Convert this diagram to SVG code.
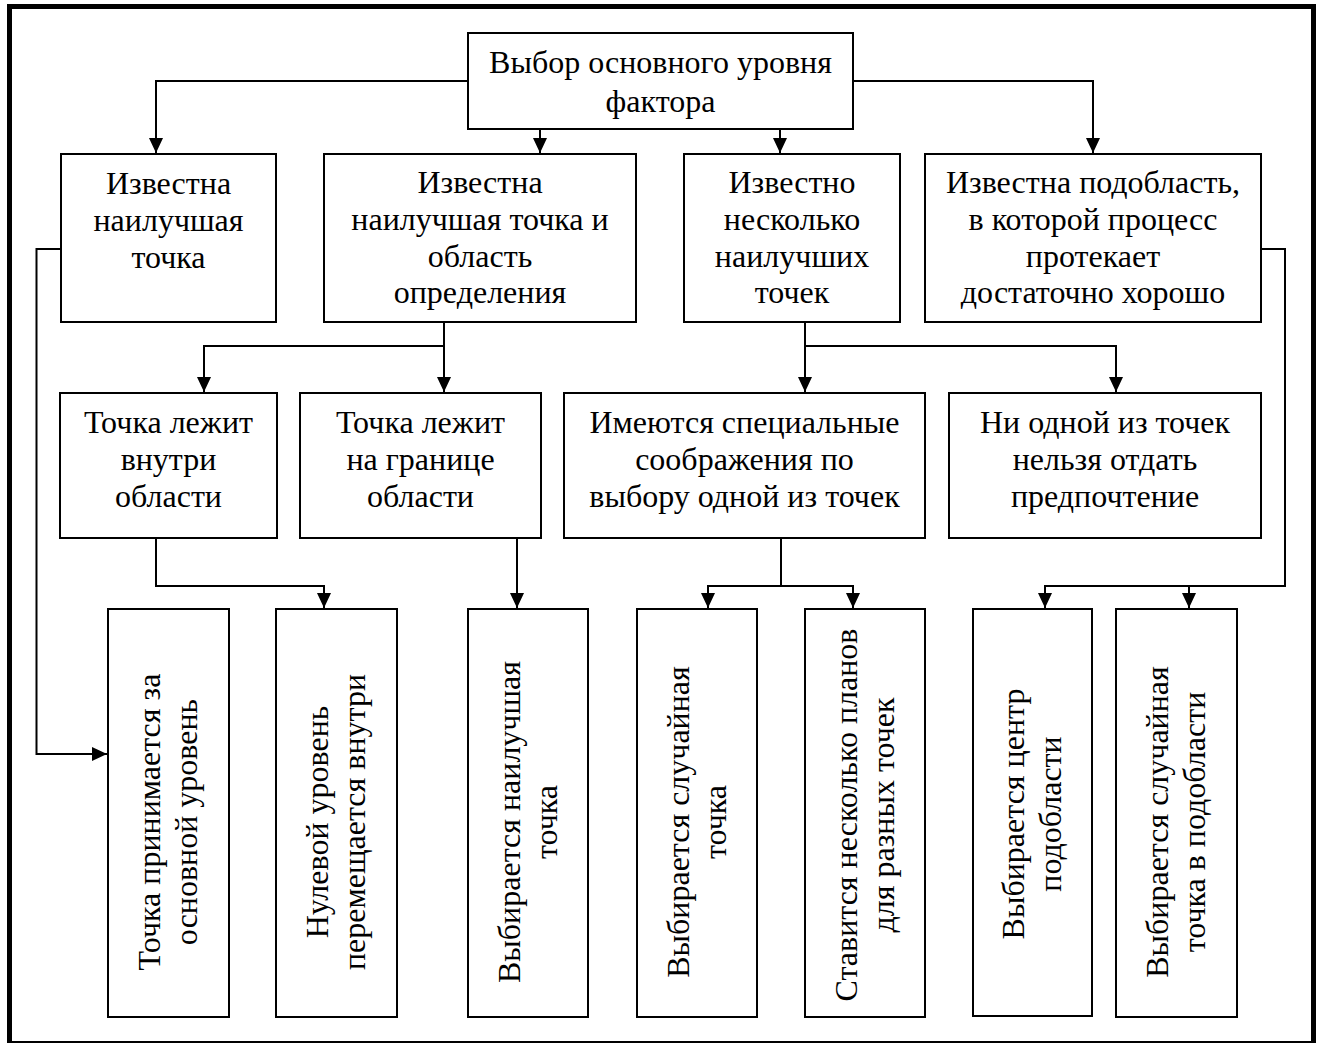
<svg xmlns="http://www.w3.org/2000/svg" width="1318" height="1043" viewBox="0 0 1318 1043" font-family="Liberation Serif, Times New Roman, serif">
<defs>
<marker id="ah" markerUnits="userSpaceOnUse" markerWidth="16" markerHeight="14" refX="15" refY="7" orient="auto">
<path d="M0,0 L15,7 L0,14 Z" fill="#000"/>
</marker>
<style>
.box{fill:#fff;stroke:#000;stroke-width:2}
.t{font-size:32px;fill:#000;text-anchor:middle}
.c{fill:none;stroke:#000;stroke-width:2}
.a{fill:none;stroke:#000;stroke-width:2;marker-end:url(#ah)}
</style>
</defs>
<rect x="9.5" y="6.5" width="1304" height="1037" fill="#fff" stroke="#000" stroke-width="5"/>

<g id="connectors">
<polyline class="a" points="468,81 156,81 156,153"/>
<polyline class="a" points="853,81 1093,81 1093,153"/>
<line class="a" x1="540" y1="129" x2="540" y2="153"/>
<line class="a" x1="780" y1="129" x2="780" y2="153"/>
<polyline class="a" points="61,249 36.5,249 36.5,754 107,754"/>
<polyline class="a" points="1261,249 1285,249 1285,586 1045,586 1045,608"/>
<line class="a" x1="1189" y1="586" x2="1189" y2="608"/>
<line class="a" x1="444" y1="322" x2="444" y2="392"/>
<polyline class="a" points="444,346 204,346 204,392"/>
<line class="a" x1="805" y1="322" x2="805" y2="392"/>
<polyline class="a" points="805,346 1116,346 1116,392"/>
<polyline class="a" points="156,538 156,586 324,586 324,608"/>
<line class="a" x1="517" y1="538" x2="517" y2="608"/>
<polyline class="c" points="781,538 781,586"/>
<polyline class="a" points="781,586 708,586 708,608"/>
<polyline class="a" points="781,586 853,586 853,608"/>
</g>

<g id="n0"><rect class="box" x="468" y="33" width="385" height="96"/>
<text class="t" x="660.5" y="73">Выбор основного уровня</text>
<text class="t" x="660.5" y="112">фактора</text></g>

<g id="n1"><rect class="box" x="61" y="154" width="215" height="168"/>
<text class="t" x="168.5" y="194">Известна</text>
<text class="t" x="168.5" y="231">наилучшая</text>
<text class="t" x="168.5" y="268">точка</text></g>

<g id="n2"><rect class="box" x="324" y="154" width="312" height="168"/>
<text class="t" x="480" y="193">Известна</text>
<text class="t" x="480" y="230">наилучшая точка и</text>
<text class="t" x="480" y="267">область</text>
<text class="t" x="480" y="303">определения</text></g>

<g id="n3"><rect class="box" x="684" y="154" width="216" height="168"/>
<text class="t" x="792" y="193">Известно</text>
<text class="t" x="792" y="230">несколько</text>
<text class="t" x="792" y="267">наилучших</text>
<text class="t" x="792" y="303">точек</text></g>

<g id="n4"><rect class="box" x="925" y="154" width="336" height="168"/>
<text class="t" x="1093" y="193">Известна подобласть,</text>
<text class="t" x="1093" y="230">в которой процесс</text>
<text class="t" x="1093" y="267">протекает</text>
<text class="t" x="1093" y="303">достаточно хорошо</text></g>

<g id="n5"><rect class="box" x="60" y="393" width="217" height="145"/>
<text class="t" x="168.5" y="433">Точка лежит</text>
<text class="t" x="168.5" y="470">внутри</text>
<text class="t" x="168.5" y="507">области</text></g>

<g id="n6"><rect class="box" x="300" y="393" width="241" height="145"/>
<text class="t" x="420.5" y="433">Точка лежит</text>
<text class="t" x="420.5" y="470">на границе</text>
<text class="t" x="420.5" y="507">области</text></g>

<g id="n7"><rect class="box" x="564" y="393" width="361" height="145"/>
<text class="t" x="744.5" y="433">Имеются специальные</text>
<text class="t" x="744.5" y="470">соображения по</text>
<text class="t" x="744.5" y="507">выбору одной из точек</text></g>

<g id="n8"><rect class="box" x="949" y="393" width="312" height="145"/>
<text class="t" x="1105" y="433">Ни одной из точек</text>
<text class="t" x="1105" y="470">нельзя отдать</text>
<text class="t" x="1105" y="507">предпочтение</text></g>

<g id="n9"><rect class="box" x="108" y="609" width="121" height="408"/>
<g transform="translate(168.5,822) rotate(-90)"><text class="t" x="0" y="-8.5">Точка принимается за</text><text class="t" x="0" y="28.5">основной уровень</text></g></g>

<g id="n10"><rect class="box" x="276" y="609" width="121" height="408"/>
<g transform="translate(336.5,822) rotate(-90)"><text class="t" x="0" y="-8.5">Нулевой уровень</text><text class="t" x="0" y="28.5">перемещается внутри</text></g></g>

<g id="n11"><rect class="box" x="468" y="609" width="120" height="408"/>
<g transform="translate(528,822) rotate(-90)"><text class="t" x="0" y="-8.5">Выбирается наилучшая</text><text class="t" x="0" y="28.5">точка</text></g></g>

<g id="n12"><rect class="box" x="637" y="609" width="120" height="408"/>
<g transform="translate(697,822) rotate(-90)"><text class="t" x="0" y="-8.5">Выбирается случайная</text><text class="t" x="0" y="28.5">точка</text></g></g>

<g id="n13"><rect class="box" x="805" y="609" width="120" height="408"/>
<g transform="translate(865,815) rotate(-90)"><text class="t" x="0" y="-8.5">Ставится несколько планов</text><text class="t" x="0" y="28.5">для разных точек</text></g></g>

<g id="n14"><rect class="box" x="973" y="609" width="119" height="407"/>
<g transform="translate(1032.5,814) rotate(-90)"><text class="t" x="0" y="-8.5">Выбирается центр</text><text class="t" x="0" y="28.5">подобласти</text></g></g>

<g id="n15"><rect class="box" x="1116" y="609" width="121" height="408"/>
<g transform="translate(1176.5,822) rotate(-90)"><text class="t" x="0" y="-8.5">Выбирается случайная</text><text class="t" x="0" y="28.5">точка в подобласти</text></g></g>
</svg>
